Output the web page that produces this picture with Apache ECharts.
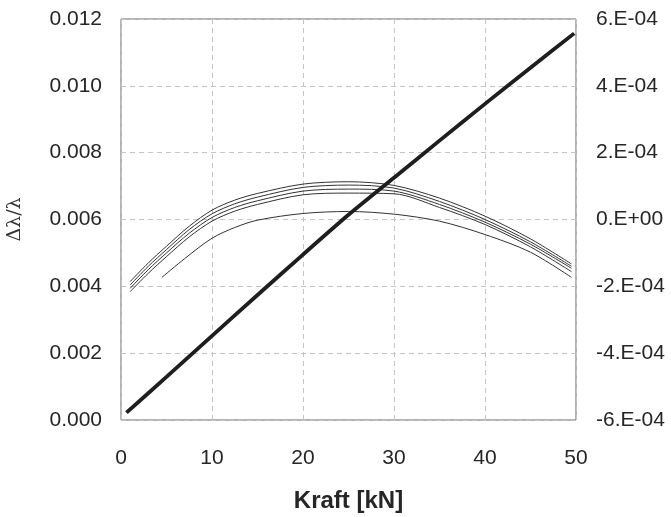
<!DOCTYPE html>
<html>
<head>
<meta charset="utf-8">
<script src="https://cdn.jsdelivr.net/npm/echarts@6/dist/echarts.min.js"></script>
<style>
  html, body { margin: 0; padding: 0; background: #fff; }
  #chart { width: 671px; height: 517px; }
</style>
</head>
<body>
<div id="chart"></div>
<script>
// Force axis (kN)
const xTicks = [0, 10, 20, 30, 40, 50];

// Strain Δλ/λ against force (left axis)
const strainForce = [0.6, 5, 10, 15, 20, 25, 30, 35, 40, 45, 49.8];
const strainValue = [0.00022, 0.00129, 0.00252, 0.00374, 0.00495, 0.00614, 0.00725, 0.00836, 0.00946, 0.01054, 0.01157];

// Deviation curves (right axis)
const devForce = [1, 3, 5, 7.5, 10, 12.5, 15, 20, 25, 30, 35, 40, 45, 49.5];
const devA = [-1.86e-4, -1.30e-4, -0.80e-4, -0.20e-4, 0.28e-4, 0.58e-4, 0.78e-4, 1.06e-4, 1.13e-4, 1.02e-4, 0.64e-4, 0.10e-4, -0.58e-4, -1.33e-4];
const devB = [-1.96e-4, -1.40e-4, -0.90e-4, -0.30e-4, 0.17e-4, 0.47e-4, 0.67e-4, 0.96e-4, 1.03e-4, 0.94e-4, 0.54e-4, 0.00e-4, -0.67e-4, -1.40e-4];
const devC = [-2.06e-4, -1.50e-4, -1.00e-4, -0.41e-4, 0.06e-4, 0.36e-4, 0.56e-4, 0.85e-4, 0.91e-4, 0.85e-4, 0.45e-4, -0.08e-4, -0.74e-4, -1.46e-4];
const devD = [-2.16e-4, -1.61e-4, -1.11e-4, -0.52e-4, -0.05e-4, 0.25e-4, 0.45e-4, 0.74e-4, 0.79e-4, 0.77e-4, 0.36e-4, -0.15e-4, -0.82e-4, -1.56e-4];
const devEForce = [4.5, 7, 10, 12.5, 15, 20, 25, 30, 35, 40, 45, 49.5];
const devE = [-1.73e-4, -1.17e-4, -0.56e-4, -0.24e-4, -0.02e-4, 0.18e-4, 0.24e-4, 0.16e-4, -0.05e-4, -0.45e-4, -0.98e-4, -1.73e-4];

// Tick labels
const leftTicks = ['0.000', '0.002', '0.004', '0.006', '0.008', '0.010', '0.012'];
const rightTicks = ['-6.E-04', '-4.E-04', '-2.E-04', '0.E+00', '2.E-04', '4.E-04', '6.E-04'];

const pairs = (xs, ys) => xs.map((x, i) => [x, ys[i]]);

const labelFont = { fontFamily: 'Liberation Sans, Arial, sans-serif', fontSize: 21, color: '#262626' };
const gridLine = { show: true, lineStyle: { color: '#c4c4c4', type: [5, 4], width: 1 } };

const thin = (name, xs, ys) => ({
  name, type: 'line', yAxisIndex: 1, data: pairs(xs, ys),
  symbol: 'none', smooth: 0.3,
  lineStyle: { color: '#333', width: 1 }, z: 3
});

const chart = echarts.init(document.getElementById('chart'), null, { renderer: 'canvas' });
chart.setOption({
  animation: false,
  backgroundColor: '#fff',
  grid: {
    left: 121, right: 95, top: 19, bottom: 97,
    outerBoundsMode: 'none', containLabel: false,
    show: true, borderColor: '#666', borderWidth: 1
  },
  xAxis: {
    type: 'value', min: 0, max: 50, interval: 10,
    name: 'Kraft [kN]', nameLocation: 'middle', nameGap: 69,
    nameTextStyle: { fontFamily: 'Liberation Sans, Arial, sans-serif', fontSize: 24, fontWeight: 'bold', color: '#262626' },
    axisLine: { show: false }, axisTick: { show: false },
    axisLabel: Object.assign({ margin: 28, formatter: v => xTicks.includes(v) ? String(v) : '' }, labelFont),
    splitLine: gridLine
  },
  yAxis: [
    {
      type: 'value', min: 0, max: 0.012, interval: 0.002,
      name: 'Δλ/λ', nameLocation: 'middle', nameGap: 96, nameRotate: 90,
      nameTextStyle: { fontFamily: 'DejaVu Serif, Liberation Serif, serif', fontSize: 19, color: '#333' },
      axisLine: { show: false }, axisTick: { show: false },
      axisLabel: Object.assign({ margin: 19, formatter: v => leftTicks[Math.round(v / 0.002)] }, labelFont),
      splitLine: gridLine
    },
    {
      type: 'value', min: -6e-4, max: 6e-4, interval: 2e-4,
      axisLine: { show: false }, axisTick: { show: false },
      axisLabel: Object.assign({ margin: 20, formatter: v => rightTicks[Math.round(v / 2e-4) + 3] }, labelFont),
      splitLine: { show: false }
    }
  ],
  series: [
    thin('A', devForce, devA),
    thin('B', devForce, devB),
    thin('C', devForce, devC),
    thin('D', devForce, devD),
    thin('E', devEForce, devE),
    {
      name: 'Δλ/λ', type: 'line', yAxisIndex: 0, data: pairs(strainForce, strainValue),
      symbol: 'none', smooth: 0.2,
      lineStyle: { color: '#1e1e1e', width: 3.8 }, z: 4
    }
  ]
});
</script>
</body>
</html>
